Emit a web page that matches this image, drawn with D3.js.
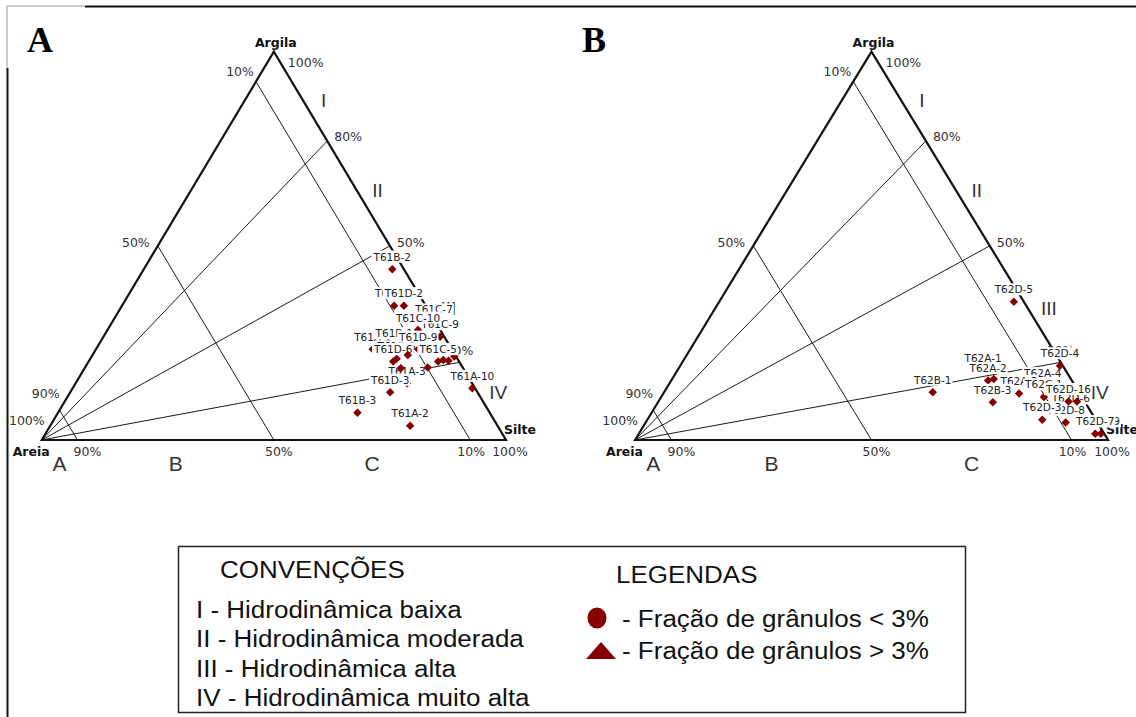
<!DOCTYPE html>
<html><head><meta charset="utf-8">
<script src="https://cdn.jsdelivr.net/npm/d3@7"></script>
<style>body{margin:0;background:#fff}</style>
</head><body><svg id="c" width="1136" height="717"></svg>
<script>
// ---- grid definition (values as drawn in the picture) ----
const sandLines = [0.923, 0.5, 0.077];          // lines of constant sand
const ratioLines = [0.77, 0.5, 0.2];            // clay/(clay+silt) from Areia
const leftTickLabels = ["10%", "50%", "90%", "100%"];
const bottomTickLabels = ["90%", "50%", "10%", "100%"];
const rightTickLabels = ["100%", "80%", "50%", "20%"];
const zoneLetters = ["A", "B", "C"];
const zoneNumerals = ["I", "II", "III", "IV"];
const numeralClay = [0.876, 0.644, 0.339, 0.124];
const vertexNames = ["Areia", "Silte", "Argila"];

// ---- panel A samples (drawing order) ----
const namesA = ["T61A-1","T61B-1","T61C-7","T61C-9","T61C-10","T61A-3","T61D-5","T61D-6","T61D-9","","","","","","","T61C-5","T61D-3","T61D-1","T61D-2","T61B-2","T61A-10","T61B-3","T61A-2"];
const sandA  = [0.170,0.119,0.003,0.009,0.048,0.140,0.131,0.142,0.072,0.102,0.134,0.075,0.032,0.022,0.004,0.045,0.188,0.068,0.047,0.025,0.006,0.285,0.188];
const siltA  = [0.596,0.638,0.693,0.725,0.669,0.714,0.660,0.656,0.694,0.679,0.681,0.738,0.762,0.774,0.781,0.753,0.689,0.586,0.607,0.535,0.861,0.645,0.775];
const clayA  = [0.234,0.243,0.304,0.266,0.283,0.146,0.209,0.202,0.234,0.219,0.185,0.187,0.206,0.204,0.215,0.202,0.123,0.346,0.346,0.440,0.133,0.070,0.037];

// ---- panel B samples (drawing order) ----
const namesB = ["T62A-1","T62A-2","","T62A-4","T62A-3","T62C-1","T62B-1","T62B-3","T62D-6","T62D-9","T62D-8","T62D-16","","T62D-3","T62D-7","T62D-4","T62D-5"];
const sandB  = [0.174,0.177,0.163,0.068,0.128,0.080,0.309,0.195,0.041,0.007,0.067,0.034,0.016,0.113,0.019,0.006,0.021];
const siltB  = [0.646,0.670,0.680,0.792,0.752,0.809,0.568,0.708,0.884,0.977,0.888,0.867,0.885,0.835,0.965,0.803,0.623];
const clayB  = [0.180,0.153,0.157,0.140,0.120,0.111,0.123,0.097,0.075,0.016,0.045,0.099,0.099,0.052,0.016,0.191,0.356];

// ---- legend text ----
const legendConvTitle = "CONVENÇÕES";
const legendConv = ["I - Hidrodinâmica baixa","II - Hidrodinâmica moderada","III - Hidrodinâmica alta","IV - Hidrodinâmica muito alta"];
const legendLegTitle = "LEGENDAS";
const legendLeg = ["- Fração de grânulos < 3%","- Fração de grânulos > 3%"];
const panelLetters = ["A","B"];

const svg = d3.select("#c");
const MARK = "#850000";
const TICKF = "'DejaVu Sans', sans-serif";

// outer frame
svg.append("path").attr("d","M7,68 V6 H85").attr("fill","none").attr("stroke","#999").attr("stroke-width",1);
svg.append("path").attr("d","M7.5,717 V68 M85,6.5 H1136").attr("fill","none").attr("stroke","#111").attr("stroke-width",2);

function drawPanel(cfg, names, sand, silt, clay, letter) {
  const g = svg.append("g");
  const xs = d3.scaleLinear().domain([0,1]).range(cfg.xr);
  const ys = d3.scaleLinear().domain([0,1]).range(cfg.yr);
  const P = (s, si, c) => [xs(si + c/2), ys(c)];
  const line = d3.line();

  // panel letter
  svg.append("text").attr("x", cfg.letterX).attr("y", 52).text(letter)
    .attr("font-family","'Liberation Serif', 'Times New Roman', serif").attr("font-weight","bold")
    .attr("font-size",36).attr("fill","#000");

  // sand lines
  sandLines.forEach(s => {
    g.append("path").attr("d", line([P(s,0,1-s), P(s,1-s,0)]))
      .attr("stroke","#1a1a1a").attr("stroke-width",1).attr("fill","none");
  });
  // ratio lines
  ratioLines.forEach(r => {
    g.append("path").attr("d", line([P(1,0,0), P(0,1-r,r)]))
      .attr("stroke","#1a1a1a").attr("stroke-width",1).attr("fill","none");
  });
  // edges
  g.append("path").attr("d", line([P(1,0,0), P(0,0,1), P(0,1,0)]) + "Z")
    .attr("stroke","#111").attr("stroke-width",2.2).attr("fill","none").attr("stroke-linejoin","miter");

  const tx = (x, y, t, anchor, size, weight, fill, fam) =>
    g.append("text").attr("x", x).attr("y", y).text(t).attr("text-anchor", anchor)
      .attr("font-family", fam || TICKF).attr("font-size", size).attr("font-weight", weight || "normal")
      .attr("fill", fill || "#333");

  // left ticks (sand along left edge)
  const leftPts = [P(sandLines[2],0,1-sandLines[2]), P(0.5,0,0.5), P(sandLines[0],0,1-sandLines[0]), P(1,0,0)];
  const leftOff = [[-2,-6],[-8,1],[0,-12],[3,-15]];
  leftTickLabels.forEach((t,i) => tx(leftPts[i][0]+leftOff[i][0], leftPts[i][1]+leftOff[i][1], t, "end", 12.5));
  // bottom ticks
  const botPts = [P(sandLines[0],1-sandLines[0],0), P(0.5,0.5,0), P(sandLines[2],1-sandLines[2],0), P(0,1,0)];
  const botDx = [10,5,1,4];
  bottomTickLabels.forEach((t,i) => tx(botPts[i][0]+botDx[i], botPts[i][1]+16, t, "middle", 12.5));
  // right ticks
  const rightPts = [P(0,0,1)].concat(ratioLines.map(r => P(0,1-r,r)));
  const rightOff = [[14,15],[7,0],[7,1],[-14,-7]];
  rightTickLabels.forEach((t,i) => tx(rightPts[i][0]+rightOff[i][0], rightPts[i][1]+rightOff[i][1], t, "start", 12.5));

  // vertex names
  const vA = P(1,0,0), vS = P(0,1,0), vC = P(0,0,1);
  tx(vA[0]+8, vA[1]+16, vertexNames[0], "end", 12.5, "bold", "#111");
  tx(vS[0]-2, vS[1]-6, vertexNames[1], "start", 12.5, "bold", "#111");
  tx(vC[0]+2, vC[1]-5, vertexNames[2], "middle", 12.5, "bold", "#111");

  // zone letters along base (mid of sand zones)
  const bounds = [1, sandLines[0], sandLines[1], sandLines[2]];
  zoneLetters.forEach((t,i) => {
    const s = (bounds[i] + bounds[i+1]) / 2;
    const p = P(s, 1-s, 0);
    tx(p[0], p[1]+31, t, "middle", 21, "normal", "#333", "'Liberation Sans', Arial, sans-serif");
  });
  // roman numerals beside right edge
  zoneNumerals.forEach((t,i) => {
    const c = numeralClay[i];
    const p = P(0, 1-c, c);
    tx(p[0]+21, p[1]+7, t, "middle", 19, "normal", "#333", "'Liberation Sans', Arial, sans-serif");
  });

  // samples: point, then label with white background
  names.forEach((n,i) => {
    const p = P(sand[i], silt[i], clay[i]);
    g.append("path").attr("d", d3.symbol(d3.symbolSquare, 36)())
      .attr("transform", `translate(${p[0]},${p[1]}) rotate(45)`).attr("fill", MARK);
    if (n) {
      const lg = g.append("g");
      const rect = lg.append("rect").attr("fill","#fff");
      const t = lg.append("text").attr("x", p[0]).attr("y", p[1]-8.5).text(n)
        .attr("text-anchor","middle").attr("font-family",TICKF).attr("font-size",10.5).attr("fill","#222");
      const bb = t.node().getBBox();
      rect.attr("x", bb.x-1).attr("y", bb.y).attr("width", bb.width+2).attr("height", bb.height);
    }
  });
}

drawPanel({xr:[41.7,506], yr:[440,51.7], letterX:27}, namesA, sandA, siltA, clayA, panelLetters[0]);
drawPanel({xr:[635,1108], yr:[440,51.7], letterX:582}, namesB, sandB, siltB, clayB, panelLetters[1]);

// ---- legend ----
const lg = svg.append("g");
lg.append("rect").attr("x",178.5).attr("y",546.5).attr("width",787).attr("height",166)
  .attr("fill","#fff").attr("stroke","#222").attr("stroke-width",1.5);
const SX = 1.13;
const LF = "'Liberation Sans', Arial, sans-serif";
const ltx = (x, y, t) => lg.append("text").attr("transform", `translate(${x},${y}) scale(${SX},1)`)
  .text(t).attr("font-family", LF).attr("font-size", 23).attr("fill", "#111");
ltx(220, 578, legendConvTitle);
const convY = [618, 647, 676.5, 706];
legendConv.forEach((t,i) => ltx(196, convY[i], t));
ltx(616, 583, legendLegTitle);
const legY = [627, 659];
legendLeg.forEach((t,i) => ltx(622, legY[i], t));
lg.append("ellipse").attr("cx",597).attr("cy",618).attr("rx",9.5).attr("ry",10.5).attr("fill",MARK);
lg.append("path").attr("d", d3.line()([[586,659],[616,659],[601,642]]) + "Z").attr("fill",MARK);
</script></body></html>
